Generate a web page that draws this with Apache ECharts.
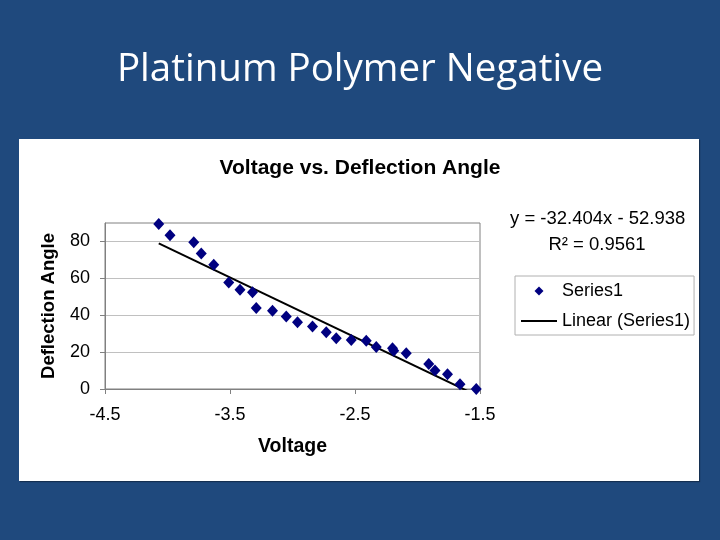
<!DOCTYPE html>
<html>
<head>
<meta charset="utf-8">
<script src="https://cdn.jsdelivr.net/npm/echarts@6/dist/echarts.min.js"></script>
<style>html,body{margin:0;padding:0;background:#1F497D;}#c{width:720px;height:540px;}</style>
</head>
<body>
<div id="c"></div>
<script>
// Data
var voltage = [-4.07, -3.98, -3.79, -3.73, -3.63, -3.51, -3.42, -3.32, -3.29, -3.16, -3.05, -2.96, -2.84, -2.73, -2.65, -2.53, -2.41, -2.33, -2.20, -2.19, -2.09, -1.91, -1.86, -1.76, -1.66, -1.53];
var angle = [89.5, 83.3, 79.5, 73.4, 67.4, 57.8, 53.8, 52.5, 43.9, 42.4, 39.3, 36.2, 33.9, 30.8, 27.5, 26.6, 26.1, 22.8, 22.1, 20.8, 19.4, 13.6, 10.0, 8.0, 2.6, 0.0];
var trendSlope = -32.404;
var trendIntercept = -52.938;
var rSquared = 0.9561;
var xTicks = [-4.5, -3.5, -2.5, -1.5];
var yTicks = [0, 20, 40, 60, 80];

var pts = voltage.map(function (v, i) { return [v, angle[i]]; });
var xMin = Math.min.apply(null, voltage), xMax = Math.max.apply(null, voltage);
var trend = [[xMin, trendSlope * xMin + trendIntercept], [xMax, trendSlope * xMax + trendIntercept]];

var F = '"Liberation Sans", Arial, sans-serif';
var chart = echarts.init(document.getElementById('c'));
chart.setOption({
  backgroundColor: '#1F497D',
  animation: false,
  graphic: [
    { type: 'rect', z: -10, shape: { x: 19, y: 139, width: 680, height: 342 },
      style: { fill: '#ffffff', shadowColor: 'rgba(0,0,0,0.35)', shadowOffsetX: 1, shadowOffsetY: 1, shadowBlur: 1 } },
    { type: 'text', z: 10, style: { text: 'y = ' + trendSlope + 'x - ' + Math.abs(trendIntercept), x: 510, y: 219, font: '18.5px ' + F, fill: '#000', verticalAlign: 'middle' } },
    { type: 'text', z: 10, style: { text: 'R\u00b2 = ' + rSquared, x: 597, y: 245, font: '18.5px ' + F, fill: '#000', align: 'center', verticalAlign: 'middle' } }
  ],
  title: [
    { text: 'Platinum Polymer Negative', left: 'center', top: 46,
      textStyle: { color: '#ffffff', fontFamily: '"Open Sans", sans-serif', fontWeight: 'normal', fontSize: 38.5 } },
    { text: 'Voltage vs. Deflection Angle', left: 'center', top: 153,
      textStyle: { color: '#000', fontFamily: F, fontWeight: 'bold', fontSize: 21 } }
  ],
  legend: {
    orient: 'vertical', left: 515, top: 276,
    padding: [5, 4, 4, 6], itemGap: 10, itemWidth: 36, itemHeight: 14,
    borderColor: '#b0b0b0', borderWidth: 1, borderRadius: 0,
    textStyle: { color: '#000', fontFamily: F, fontSize: 18, lineHeight: 20 },
    data: [
      { name: 'Series1', icon: 'path://M0,0M36,14M18,2.5L22.5,7L18,11.5L13.5,7Z' },
      { name: 'Linear (Series1)', icon: 'path://M0,0M36,14M0,6L36,6L36,8L0,8Z' }
    ]
  },
  grid: { left: 105, right: 240, top: 223, bottom: 151, show: true, borderColor: '#808080', borderWidth: 1 },
  xAxis: {
    type: 'value', min: -4.5, max: -1.5,
    name: 'Voltage', nameLocation: 'middle', nameGap: 48,
    nameTextStyle: { color: '#000', fontFamily: F, fontWeight: 'bold', fontSize: 19.5 },
    axisLine: { show: true, lineStyle: { color: '#808080' } },
    axisTick: { show: true, length: 5, lineStyle: { color: '#808080' }, customValues: xTicks },
    axisLabel: { color: '#000', fontFamily: F, fontSize: 18, margin: 17, customValues: xTicks },
    splitLine: { show: false }
  },
  yAxis: {
    type: 'value', min: 0, max: 90, interval: 20,
    name: 'Deflection Angle', nameLocation: 'middle', nameGap: 47, nameRotate: 90,
    nameTextStyle: { color: '#000', fontFamily: F, fontWeight: 'bold', fontSize: 18.5 },
    axisLine: { show: true, lineStyle: { color: '#808080' } },
    axisTick: { show: true, length: 5, lineStyle: { color: '#808080' }, customValues: yTicks },
    axisLabel: { color: '#000', fontFamily: F, fontSize: 18, margin: 15, customValues: yTicks },
    splitLine: { show: true, lineStyle: { color: '#c0c0c0' } }
  },
  series: [
    { name: 'Series1', type: 'scatter', data: pts, symbol: 'diamond', symbolSize: [11, 12],
      itemStyle: { color: '#000080', opacity: 1 }, z: 3 },
    { name: 'Linear (Series1)', type: 'line', data: trend, showSymbol: false, symbol: 'none',
      lineStyle: { color: '#000', width: 2 }, itemStyle: { color: '#000' }, z: 2, clip: true }
  ]
});
</script>
</body>
</html>
